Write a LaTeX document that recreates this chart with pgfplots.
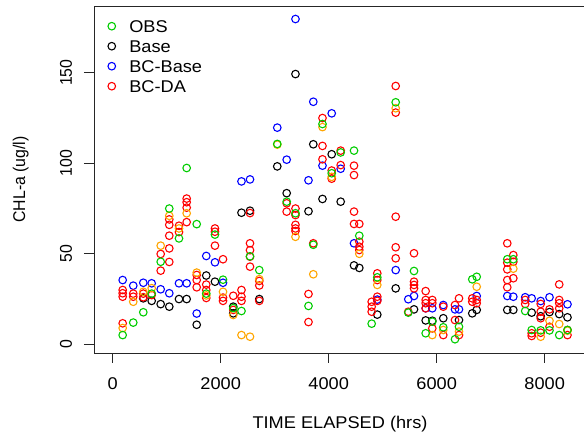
\documentclass[border=0pt]{standalone}
\usepackage{fontspec}
\setmainfont[FakeStretch=1.07]{Liberation Sans}
\newfontfamily\rotfont[FakeStretch=0.93]{Liberation Sans}
\usepackage{pgfplots}
\pgfplotsset{compat=1.18}
\definecolor{rgreen}{RGB}{0,205,0}
\definecolor{rorange}{RGB}{255,165,0}
\definecolor{rblue}{RGB}{0,0,255}
\definecolor{rred}{RGB}{255,0,0}
\begin{document}
\begin{tikzpicture}
\useasboundingbox (0pt,0pt) rectangle (584pt,435pt);
\clip (0pt,0pt) rectangle (584pt,435pt);
\begin{axis}[
  at={(94pt,82pt)}, anchor=south west,
  scale only axis, width=492pt, height=347pt,
  xmin=-346, xmax=8765, ymin=-4.8, ymax=186.9,
  axis line style={line width=0.9pt, black!85},
  tick align=outside, tick pos=left, major tick length=10pt,
  every tick/.style={line width=0.9pt, black!85},
  xtick={0,2000,4000,6000,8000}, ytick={0,50,100,150},
  /pgf/number format/assume math mode=true,
  /pgf/number format/1000 sep={},
  xticklabel style={font=\fontsize{17}{20}\selectfont, anchor=base, yshift=-27pt},
  yticklabel style={font=\rotfont\fontsize{17}{20}\selectfont, xshift=-12pt, rotate=90, anchor=base},
  xlabel={TIME ELAPSED (hrs)}, ylabel={CHL-a (ug/l)},
  xlabel style={font=\fontsize{17}{20}\selectfont, at={(axis description cs:0.5,-0.217)}, anchor=base},
  ylabel style={font=\rotfont\fontsize{17}{20}\selectfont, at={(axis description cs:-0.1402,0.5)}, anchor=base},
  legend style={at={(axis description cs:0.0224,0.9654)}, anchor=north west,
    draw=none, fill=none, inner sep=0pt, row sep=4pt,
    font=\fontsize{17}{20}\selectfont,
    nodes={text height=12pt, text depth=0pt, inner sep=2pt}},
  legend image code/.code={\draw[#1] plot coordinates {(0pt,0pt)}; \path (-6pt,-5pt) (15pt,5pt);},
  legend cell align=left,
  mark size=3.8pt,
]
\addlegendimage{only marks, mark=o, rgreen, line width=1.1pt}
\addlegendentry{OBS}
\addlegendimage{only marks, mark=o, black, line width=1.1pt}
\addlegendentry{Base}
\addlegendimage{only marks, mark=o, rblue, line width=1.1pt}
\addlegendentry{BC-Base}
\addlegendimage{only marks, mark=o, rred, line width=1.1pt}
\addlegendentry{BC-DA}

\addplot[forget plot, only marks, mark=o, black, line width=1.1pt] coordinates {
(567,25.4)(722,24)(889,22.2)(1048,20.8)(1228,25)(1370,25)(1556,10.8)(1733,38)(1894,34.6)(2233,20.8)(2233,17.1)(2385,72.7)(2543,73.8)(2715,25)(3048,98.3)(3222,83.5)(3385,149.3)(3626,73.5)(3715,110.5)(3885,80.3)(4056,105)(4222,78.8)(4469,43.6)(4567,42.2)(4900,16.4)(5241,30.9)(5580,19.3)(5796,13.2)(5919,13)(6122,14.4)(6413,13.4)(6659,17.1)(6741,19)(7307,19)(7419,19)(7759,17.5)(7926,15.5)(8089,17.8)(8269,16.7)(8422,14.9)
};
\addplot[forget plot, only marks, mark=o, rblue, line width=1.1pt] coordinates {
(185,35.5)(381,32.4)(567,34)(722,33.7)(889,30.4)(1048,28.2)(1228,33.7)(1370,33.7)(1556,17)(1733,48.8)(1894,45.3)(2043,34)(2385,90)(2543,91.1)(3048,119.7)(3222,102)(3385,179.7)(3626,90.6)(3715,134)(3885,98.7)(4056,127.6)(4222,97)(4469,55.8)(4900,24.7)(5241,41)(5474,24.9)(5580,26.7)(5796,19.9)(5919,19.9)(6122,21.7)(6339,19.3)(6413,19.3)(6741,26.7)(7307,26.7)(7419,26.3)(7639,26)(7759,25.4)(7926,23.9)(8089,26)(8422,22.1)
};
\addplot[forget plot, only marks, mark=o, rred, line width=1.1pt] coordinates {
(185,30)(185,28.2)(185,26.3)(185,11.6)
(381,28)(381,26.3)
(567,28)(567,26)
(722,27.2)
(889,49.9)(889,40.7)
(1048,69)(1048,66)(1048,60)(1048,53)(1048,45.5)
(1228,65.5)(1228,62)
(1370,80.5)(1370,78.5)(1370,75.5)(1370,67.5)
(1556,38.3)(1556,35.5)(1556,31.5)
(1733,33)(1733,30)(1733,25.6)
(1894,64)(1894,62.2)(1894,54.5)
(2043,47)(2043,25.8)(2043,24)
(2233,26.8)(2233,19)
(2385,30)(2385,26.3)(2385,24)
(2543,72.5)(2543,55.8)(2543,52)(2543,48.4)(2543,42.9)
(2715,35)(2715,32.5)(2715,24)
(3222,77.9)(3222,73.3)
(3385,75)(3385,71.4)(3385,66)(3385,64)(3385,62.6)
(3626,27.8)(3626,12.3)
(3715,55.8)
(3885,125)(3885,109.6)(3885,102.2)
(4056,96)(4056,91.5)
(4222,107)(4222,99)
(4469,98.7)(4469,93.5)(4469,73.3)(4469,66.5)
(4567,66.5)(4567,56.7)(4567,53.9)(4567,52.1)
(4796,23.5)(4796,20.8)(4796,18)
(4900,39.2)(4900,35.5)(4900,26.3)(4900,24)
(5241,142.7)(5241,128)(5241,70.5)(5241,53.6)(5241,47.5)
(5474,18)
(5580,50.3)(5580,34.6)(5580,32.8)(5580,30.9)
(5796,29.4)(5796,24.5)(5796,22.7)(5796,19.9)
(5919,24.5)(5919,22.7)(5919,8.8)
(6122,20.8)(6122,5.1)
(6339,21.7)(6339,13.4)
(6413,25.4)(6413,5.1)
(6659,25.4)(6659,23.5)
(6741,24.5)(6741,22.7)
(7307,55.8)(7307,45.1)(7307,41.4)(7307,35.5)(7307,31.5)
(7419,49.3)(7419,45.6)(7419,36.5)
(7639,24.5)(7639,22.3)
(7759,6.1)(7759,4.6)
(7926,22.3)(7926,18)(7926,14.4)(7926,6.4)
(8089,19.3)(8089,9.7)
(8269,33.1)(8269,24.5)(8269,22.7)(8269,19.9)
(8422,7.9)(8422,5.1)
};
\addplot[forget plot, only marks, mark=o, rorange, line width=1.1pt] coordinates {
(185,9)(381,23.5)(567,29)(722,31)(889,54.5)(1048,71)(1228,64)(1370,72.4)(1556,39.6)(1733,27)(2043,29)(2233,16.2)(2385,5.1)(2543,4.2)(2715,36)(3048,110.3)(3385,59.4)(3715,38.7)(3885,120)(4056,92.5)(4567,50)(4900,32.8)(5241,130.4)(5919,5.1)(6122,7.9)(6413,7)(6741,31.8)(7419,41.8)(7926,4.2)(8089,13)(8269,11.2)(8422,7.5)
};
\addplot[forget plot, only marks, mark=o, rgreen, line width=1.1pt] coordinates {
(185,5.1)(381,12)(567,17.7)(722,28)(889,45.6)(1048,75)(1228,58.5)(1370,97.4)(1556,66.4)(1733,28)(1894,60.6)(2043,35.7)(2233,20)(2385,18.4)(2543,48.6)(2715,41)(3048,110.7)(3222,78.8)(3385,72.4)(3626,21.2)(3715,55)(3885,121.7)(4056,94.5)(4222,106)(4469,107)(4567,60)(4796,11.4)(4900,37)(5241,133.7)(5474,17.5)(5580,40.5)(5796,6.1)(5919,12.5)(6122,9.4)(6339,2.8)(6413,9.7)(6659,35.9)(6741,37.3)(7307,47)(7419,47)(7639,18.4)(7759,7.9)(7926,7.7)(8089,7.7)(8269,5.1)(8422,7.9)
};
\end{axis}
\end{tikzpicture}
\end{document}
